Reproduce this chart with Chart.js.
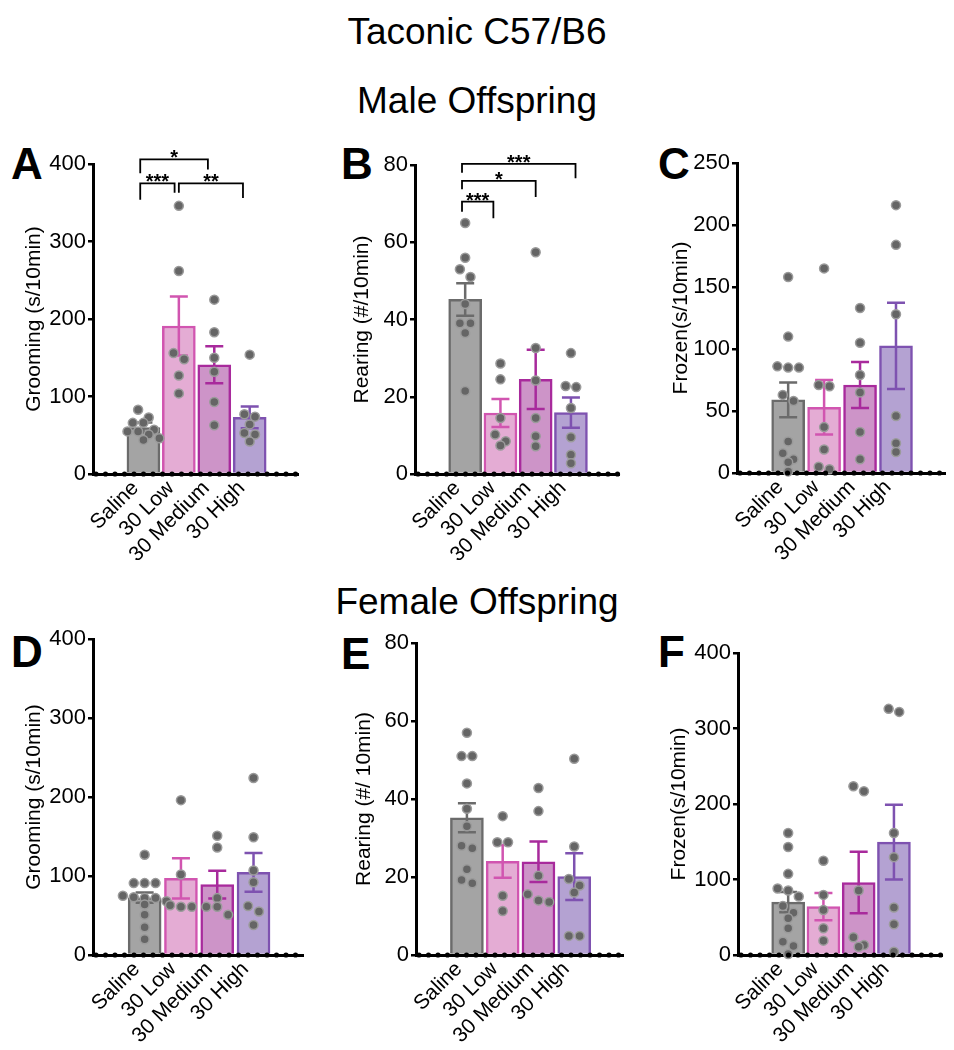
<!DOCTYPE html>
<html>
<head>
<meta charset="utf-8">
<script src="https://cdn.jsdelivr.net/npm/chart.js@4.4.1/dist/chart.umd.min.js"></script>
<style>
  body { margin: 0; background: #fff; }
  #page { position: relative; width: 954px; height: 1050px; font-family: "Liberation Sans", Arial, sans-serif; color: #000; }
  .heading { position: absolute; left: 0; width: 954px; text-align: center; font-size: 37px; line-height: 37px; }
  .letter { position: absolute; font-size: 44px; line-height: 44px; font-weight: bold; }
  .panel { position: absolute; }
</style>
</head>
<body>
<div id="page">
  <div class="heading" style="top: 13px;">Taconic C57/B6</div>
  <div class="heading" style="top: 82px;">Male Offspring</div>
  <div class="heading" style="top: 583px;">Female Offspring</div>
</div>
<script>
const groups = ["Saline", "30 Low", "30 Medium", "30 High"];

// male offspring
const maleGroomMean = [60, 191, 141, 73];
const maleGroomSem = [6.5, 38, 24, 14];
const maleGroomPts = [
  [83, 73, 66, 66, 57, 55, 55, 51, 46, 44],
  [346, 262, 156, 148, 127, 104],
  [225, 183, 150, 132, 93, 63],
  [154, 77, 74, 64, 53, 51, 42]
];

const maleRearMean = [45.2, 15.8, 24.5, 15.9];
const maleRearSem = [4.2, 3.6, 7.7, 3.9];
const maleRearPts = [
  [65, 56, 53, 51, 44, 39, 39, 36.5, 21.5],
  [28.6, 24.5, 14.5, 10.2, 8.5, 7.4],
  [57.4, 32.6, 24.2, 14.5, 9.8, 7.2],
  [31.3, 22.8, 22.5, 17.1, 9.5, 5, 2.8]
];

const maleFrozenMean = [59, 53, 71, 102.5];
const maleFrozenSem = [14, 22, 18.5, 34.7];
const maleFrozenPts = [
  [158, 110, 86, 85, 85, 63, 58, 25.5, 16, 11, 8.6, 1.3],
  [165, 71, 70, 37, 19, 5, 3],
  [133, 105, 79, 65, 33, 11],
  [216, 184, 128, 46, 24, 17]
];

// female offspring
const femGroomMean = [72.5, 97, 89, 104.5];
const femGroomSem = [6.5, 25.5, 17.5, 24.5];
const femGroomPts = [
  [127, 91, 91, 91, 75, 73, 72, 72, 68, 64, 51, 35, 20],
  [196, 102, 63, 61, 61],
  [151, 136, 72, 61, 61, 51],
  [224, 149, 107, 92, 62, 55, 38]
];

const femRearMean = [35.2, 24, 23.9, 20.1];
const femRearSem = [3.7, 4.2, 5.2, 6];
const femRearPts = [
  [57, 51, 51, 44, 37.5, 33, 28, 27.4, 22, 19.2, 18.4],
  [35.6, 28.9, 28.9, 15.2, 11.3],
  [42.8, 36.9, 20.3, 15.6, 14, 13.6],
  [50.3, 27.8, 19.5, 17.8, 16, 4.9, 4.9]
];

const femFrozenMean = [70, 64, 96, 149.5];
const femFrozenSem = [13.5, 18, 40.7, 49.4];
const femFrozenPts = [
  [161.5, 143, 107.5, 88, 85.4, 77.4, 65, 56, 48.7, 35.4, 17.7, 12, 1.3],
  [124.8, 79.6, 59.7, 35.4, 19],
  [223.5, 216.8, 85.4, 23.5, 13.3, 11],
  [326, 322, 161.5, 129.6, 62.8, 40.7, 4.4]
];

// significance brackets (group position from/to, bracket value, leg ends)
const sigA = [
  { from: -0.09, to: 1.82, top: 406, dropL: 388, dropR: 393, text: "*" },
  { from: -0.09, to: 0.88, top: 375, dropL: 354, dropR: 363, text: "***" },
  { from: 1.0, to: 2.81, top: 375, dropL: 363, dropR: 356, text: "**" }
];
const sigB = [
  { from: -0.09, to: 3.13, top: 80.3, dropL: 78, dropR: 76.6, text: "***" },
  { from: -0.09, to: 2.0, top: 75.9, dropL: 73.7, dropR: 71.7, text: "*" },
  { from: -0.09, to: 0.8, top: 70.5, dropL: 67.9, dropR: 66.2, text: "***" }
];

const fills = ["#a4a4a4", "#e4acd4", "#cd94c8", "#b4a2d2"];
const borders = ["#6b6b6b", "#d155b0", "#a82a9c", "#7e52b0"];
const FONT = "'Liberation Sans', Arial, sans-serif";

const panels = [
  { letter: "A", ltrX: 11, ltrY: 142, left: 0, top: 130, w: 318, h: 430, yW: 93, padTop: 34, padRight: 20, xH: 86, titlePad: 22,
    title: "Grooming (s/10min)", max: 400, step: 100, mean: maleGroomMean, sem: maleGroomSem, pts: maleGroomPts, sig: sigA },
  { letter: "B", ltrX: 341, ltrY: 142, left: 320, top: 130, w: 318, h: 430, yW: 95, padTop: 35, padRight: 19, xH: 86, titlePad: 30,
    title: "Rearing (#/10min)", max: 80, step: 20, mean: maleRearMean, sem: maleRearSem, pts: maleRearPts, sig: sigB },
  { letter: "C", ltrX: 658, ltrY: 142, left: 636, top: 130, w: 318, h: 430, yW: 101, padTop: 33, padRight: 9, xH: 87, titlePad: 33,
    title: "Frozen(s/10min)", max: 250, step: 50, mean: maleFrozenMean, sem: maleFrozenSem, pts: maleFrozenPts, sig: [] },
  { letter: "D", ltrX: 11, ltrY: 630, left: 0, top: 620, w: 318, h: 430, yW: 93, padTop: 19, padRight: 15, xH: 95, titlePad: 22,
    title: "Grooming (s/10min)", max: 400, step: 100, mean: femGroomMean, sem: femGroomSem, pts: femGroomPts, sig: [] },
  { letter: "E", ltrX: 341, ltrY: 632, left: 320, top: 620, w: 318, h: 430, yW: 96, padTop: 23, padRight: 15, xH: 95, titlePad: 32,
    title: "Rearing (#/ 10min)", max: 80, step: 20, mean: femRearMean, sem: femRearSem, pts: femRearPts, sig: [] },
  { letter: "F", ltrX: 658, ltrY: 630, left: 636, top: 620, w: 318, h: 430, yW: 102, padTop: 33, padRight: 12, xH: 95, titlePad: 31,
    title: "Frozen(s/10min)", max: 400, step: 100, mean: femFrozenMean, sem: femFrozenSem, pts: femFrozenPts, sig: [] }
];

// spread overlapping points sideways, like a scatter dot plot
function spread(values, yMax) {
  const thr = yMax * 0.027;
  const order = values.map((v, k) => ({ v, k })).sort((a, b) => b.v - a.v);
  const offs = new Array(values.length).fill(0);
  let row = [];
  const flush = () => {
    row.forEach((p, i) => { offs[p.k] = (i - (row.length - 1) / 2) * 0.3; });
    row = [];
  };
  order.forEach(p => {
    if (row.length && row[0].v - p.v > thr) flush();
    row.push(p);
  });
  flush();
  return offs;
}

const errorBars = {
  id: "errorBars",
  afterDatasetDraw(chart, args) {
    const ds = chart.data.datasets[args.index];
    if (!ds.sem) return;
    const { ctx, scales: { x, y } } = chart;
    ctx.save();
    ctx.lineWidth = 2.5;
    ds.data.forEach((d, i) => {
      const cx = x.getPixelForValue(d.x);
      const hi = y.getPixelForValue(d.y + ds.sem[i]);
      const lo = y.getPixelForValue(d.y - ds.sem[i]);
      ctx.strokeStyle = borders[i];
      ctx.beginPath();
      ctx.moveTo(cx, hi); ctx.lineTo(cx, lo);
      ctx.moveTo(cx - 9, hi); ctx.lineTo(cx + 9, hi);
      ctx.moveTo(cx - 9, lo); ctx.lineTo(cx + 9, lo);
      ctx.stroke();
    });
    ctx.restore();
  }
};

const decorations = {
  id: "decorations",
  afterDraw(chart, args, opts) {
    const { ctx, chartArea, scales: { x, y } } = chart;
    ctx.save();
    // dotted x axis
    ctx.fillStyle = "#000";
    for (let px = chartArea.left + 3; px <= chartArea.right; px += 9.5) {
      ctx.beginPath();
      ctx.arc(px, chartArea.bottom, 2.6, 0, Math.PI * 2);
      ctx.fill();
    }
    // significance brackets
    ctx.strokeStyle = "#000";
    ctx.lineWidth = 1.8;
    ctx.font = "bold 20px " + FONT;
    ctx.textAlign = "center";
    ctx.textBaseline = "alphabetic";
    (opts.items || []).forEach(b => {
      const x1 = x.getPixelForValue(b.from), x2 = x.getPixelForValue(b.to);
      const yt = y.getPixelForValue(b.top);
      ctx.beginPath();
      ctx.moveTo(x1, y.getPixelForValue(b.dropL));
      ctx.lineTo(x1, yt);
      ctx.lineTo(x2, yt);
      ctx.lineTo(x2, y.getPixelForValue(b.dropR));
      ctx.stroke();
      ctx.fillText(b.text, (x1 + x2) / 2, yt + 5);
    });
    ctx.restore();
  }
};

const page = document.getElementById("page");

panels.forEach(p => {
  const ltr = document.createElement("div");
  ltr.className = "letter";
  ltr.style.left = p.ltrX + "px";
  ltr.style.top = p.ltrY + "px";
  ltr.textContent = p.letter;
  page.appendChild(ltr);

  const box = document.createElement("div");
  box.className = "panel";
  box.style.left = p.left + "px";
  box.style.top = p.top + "px";
  const canvas = document.createElement("canvas");
  canvas.width = p.w;
  canvas.height = p.h;
  box.appendChild(canvas);
  page.appendChild(box);

  const points = [];
  p.pts.forEach((vals, g) => {
    const offs = spread(vals, p.max);
    vals.forEach((v, k) => points.push({ x: g + offs[k], y: v }));
  });

  new Chart(canvas, {
    type: "bar",
    data: {
      datasets: [
        {
          type: "bar",
          data: p.mean.map((m, i) => ({ x: i, y: m })),
          sem: p.sem,
          backgroundColor: fills,
          borderColor: borders,
          borderWidth: 2.5,
          barThickness: 33,
          order: 2
        },
        {
          type: "scatter",
          data: points,
          pointRadius: 4.5,
          pointBackgroundColor: "#656565",
          pointBorderColor: "#9b9b9b",
          pointBorderWidth: 1.5,
          clip: false,
          order: 1
        }
      ]
    },
    options: {
      responsive: false,
      animation: false,
      devicePixelRatio: 1,
      layout: { padding: { top: p.padTop, right: p.padRight, left: 0, bottom: 0 } },
      plugins: {
        legend: { display: false },
        tooltip: { enabled: false },
        decorations: { items: p.sig }
      },
      scales: {
        x: {
          type: "linear",
          min: -0.7,
          max: 3.64,
          z: 1,
          afterBuildTicks: s => { s.ticks = groups.map((_, i) => ({ value: i })); },
          afterFit: s => { s.height = p.xH; },
          grid: { display: false, drawTicks: false },
          border: { display: true, color: "#000", width: 3 },
          ticks: {
            autoSkip: false,
            minRotation: 45,
            maxRotation: 45,
            padding: 2,
            labelOffset: -8,
            color: "#000",
            font: { family: FONT, size: 21 },
            callback: v => groups[Math.round(v)]
          }
        },
        y: {
          min: 0,
          max: p.max,
          afterFit: s => { s.width = p.yW; },
          grid: { display: true, drawOnChartArea: false, drawTicks: true, tickLength: 5, color: "#000", lineWidth: 2.5 },
          border: { display: true, color: "#000", width: 3 },
          ticks: {
            stepSize: p.step,
            padding: 2,
            color: "#000",
            font: { family: FONT, size: 22 }
          },
          title: {
            display: true,
            text: p.title,
            color: "#000",
            font: { family: FONT, size: 21 },
            padding: { top: p.titlePad, bottom: 0 }
          }
        }
      }
    },
    plugins: [errorBars, decorations]
  });
});
</script>
</body>
</html>
